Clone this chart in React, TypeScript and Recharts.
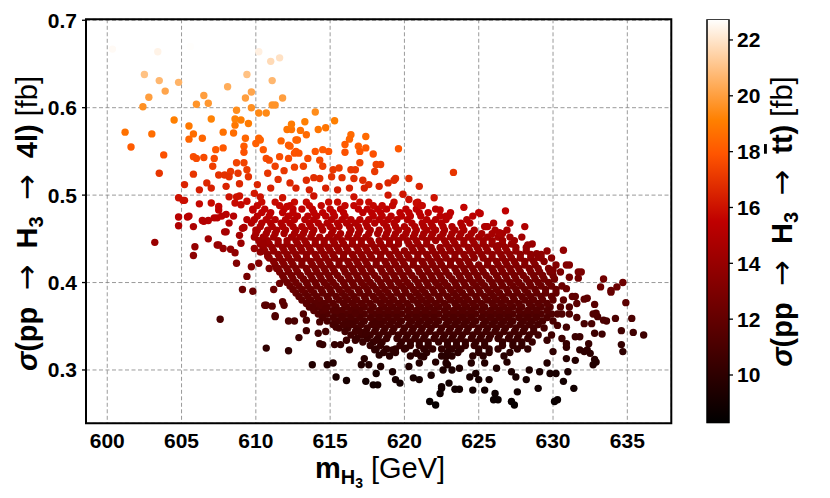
import React from "react";
import {
  ScatterChart,
  Scatter,
  XAxis,
  YAxis,
  CartesianGrid,
  ReferenceArea,
  BarChart,
  Bar,
  Label,
} from "recharts";

// each point: [m_H3 (GeV), sigma(pp -> H3 -> 4l) (fb), sigma(pp -> H3 -> tt) (fb)]
type Pt = [number, number, number];

// light / orange points above 0.5 fb
const upperArm: Pt[] = [
  [600.35, 0.667, 22.6], [603.4, 0.664, 22.4], [605.6, 0.67, 22.7], [610.2, 0.664, 22.3],
  [611.0, 0.653, 21.7], [611.6, 0.657, 21.9], [602.5, 0.638, 21.0], [603.5, 0.631, 20.7],
  [604.8, 0.629, 20.6], [609.4, 0.638, 21.0], [611.1, 0.631, 20.7], [602.8, 0.612, 20.0],
  [603.9, 0.619, 20.2], [608.1, 0.624, 20.4], [609.7, 0.618, 20.2], [609.3, 0.611, 20.0],
  [602.4, 0.601, 19.6], [606.5, 0.614, 20.0], [606.0, 0.604, 19.7], [606.8, 0.605, 19.8],
  [608.7, 0.597, 19.5], [609.7, 0.6, 19.6], [610.2, 0.594, 19.4], [610.7, 0.594, 19.4],
  [611.1, 0.603, 19.7], [611.3, 0.603, 19.7], [611.8, 0.611, 20.0], [601.2, 0.572, 18.7],
  [601.6, 0.555, 18.1], [603.0, 0.57, 18.6], [604.5, 0.586, 19.1], [603.8, 0.546, 17.8],
  [603.5, 0.525, 17.0], [605.5, 0.579, 18.9], [605.5, 0.564, 18.4], [605.8, 0.57, 18.6],
  [606.4, 0.565, 18.4], [607.0, 0.587, 19.2], [607.8, 0.572, 18.7], [608.5, 0.571, 18.6],
  [608.6, 0.58, 18.9], [608.6, 0.587, 19.2], [609.0, 0.586, 19.1], [609.5, 0.582, 19.0],
  [609.3, 0.565, 18.4], [609.2, 0.556, 18.1], [609.2, 0.549, 17.8], [610.2, 0.565, 18.4],
  [610.3, 0.563, 18.3], [610.0, 0.559, 18.2], [610.5, 0.552, 18.0], [610.7, 0.542, 17.6],
  [610.9, 0.54, 17.5], [611.7, 0.562, 18.3], [612.2, 0.557, 18.1], [612.1, 0.575, 18.8],
  [612.4, 0.575, 18.8], [612.7, 0.563, 18.3], [611.6, 0.544, 17.7], [612.2, 0.542, 17.6],
  [612.6, 0.548, 17.8], [605.8, 0.544, 17.7], [606.0, 0.542, 17.6], [606.5, 0.543, 17.6],
  [607.2, 0.542, 17.6], [607.3, 0.552, 18.0], [607.8, 0.554, 18.0], [607.1, 0.533, 17.3],
  [607.5, 0.523, 16.9], [607.9, 0.523, 16.9], [608.3, 0.527, 17.1], [608.8, 0.525, 17.0],
  [608.2, 0.521, 16.9], [608.7, 0.537, 17.4], [609.2, 0.537, 17.4], [609.4, 0.529, 17.2],
  [609.5, 0.521, 16.9], [605.8, 0.524, 17.0], [606.7, 0.514, 16.6], [607.0, 0.508, 16.4],
  [606.2, 0.506, 16.3], [605.2, 0.512, 16.5], [608.0, 0.51, 16.5], [608.9, 0.513, 16.6],
  [614.0, 0.595, 19.5], [613.3, 0.584, 19.1], [612.4, 0.581, 19.0], [613.0, 0.574, 18.7],
  [613.4, 0.569, 18.5], [612.8, 0.563, 18.3], [612.3, 0.556, 18.1], [612.7, 0.55, 17.9],
  [612.9, 0.548, 17.8], [614.2, 0.575, 18.8], [614.7, 0.577, 18.8], [615.3, 0.585, 19.1],
  [616.4, 0.569, 18.5], [616.3, 0.564, 18.4], [616.0, 0.558, 18.1], [617.4, 0.567, 18.5],
  [616.9, 0.556, 18.1], [617.0, 0.55, 17.9], [617.4, 0.554, 18.0], [617.9, 0.547, 17.8],
  [619.6, 0.553, 18.0], [614.0, 0.55, 17.9], [614.5, 0.552, 18.0], [614.9, 0.55, 17.9],
  [614.3, 0.54, 17.5], [616.0, 0.549, 17.8], [613.5, 0.542, 17.6], [613.2, 0.533, 17.3],
  [614.5, 0.533, 17.3], [615.2, 0.529, 17.1], [615.6, 0.531, 17.2], [616.4, 0.529, 17.1],
  [617.0, 0.537, 17.4], [616.7, 0.529, 17.1], [618.1, 0.535, 17.3], [618.4, 0.535, 17.3],
  [618.0, 0.527, 17.1], [619.4, 0.519, 16.8], [618.9, 0.514, 16.6], [620.3, 0.519, 16.8],
  [621.0, 0.51, 16.5], [623.3, 0.526, 17.0], [613.4, 0.517, 16.7], [613.9, 0.52, 16.8],
  [614.3, 0.519, 16.8], [615.1, 0.521, 16.9], [615.8, 0.52, 16.8], [616.6, 0.519, 16.8],
  [617.2, 0.517, 16.7], [617.6, 0.512, 16.6], [618.3, 0.51, 16.5], [617.3, 0.508, 16.4],
  [616.3, 0.508, 16.4], [615.5, 0.506, 16.3], [614.7, 0.508, 16.4], [613.6, 0.506, 16.3],
  [612.7, 0.508, 16.4], [612.3, 0.514, 16.6], [619.3, 0.517, 16.7], [610.8, 0.525, 17.0],
  [611.5, 0.518, 16.8], [611.0, 0.508, 16.4], [610.1, 0.512, 16.5], [611.9, 0.528, 17.1],
  [612.6, 0.532, 17.3], [611.3, 0.533, 17.3],
];

// red points on the low-mass side below 0.5 fb
const leftFlank: Pt[] = [
  [604.8, 0.497, 16.0], [605.2, 0.494, 15.9], [606.2, 0.49, 15.7], [607.0, 0.491, 15.8],
  [607.5, 0.487, 15.6], [608.0, 0.478, 15.3], [607.5, 0.483, 15.5], [607.4, 0.474, 15.2],
  [605.5, 0.476, 15.2], [604.8, 0.475, 15.2], [604.8, 0.465, 14.9], [606.4, 0.471, 15.1],
  [606.8, 0.471, 15.1], [608.5, 0.476, 15.2], [609.4, 0.472, 15.1], [609.2, 0.463, 14.8],
  [608.0, 0.458, 14.6], [606.8, 0.45, 14.3], [603.2, 0.446, 14.1], [605.9, 0.441, 13.9],
  [605.8, 0.431, 13.6], [607.4, 0.443, 14.0], [607.8, 0.439, 13.9], [608.3, 0.438, 13.8],
  [608.6, 0.434, 13.7], [609.0, 0.445, 14.1], [608.7, 0.498, 16.0], [608.6, 0.491, 15.8],
  [609.4, 0.493, 15.8], [609.9, 0.502, 16.2], [610.3, 0.498, 16.0], [609.8, 0.483, 15.5],
  [610.0, 0.46, 14.7], [609.9, 0.439, 13.9], [610.5, 0.445, 14.1], [605.1, 0.494, 15.9],
  [605.4, 0.475, 15.2], [605.8, 0.464, 14.8], [606.5, 0.47, 15.0], [607.2, 0.474, 15.2],
  [607.7, 0.476, 15.2], [608.2, 0.468, 15.0], [609.1, 0.462, 14.8], [607.9, 0.458, 14.6],
  [607.5, 0.443, 14.0], [608.9, 0.454, 14.5], [608.7, 0.422, 13.2], [609.4, 0.407, 12.7],
  [609.7, 0.418, 13.1], [610.2, 0.422, 13.2], [610.3, 0.435, 13.7], [610.8, 0.43, 13.5],
  [610.9, 0.416, 13.0], [609.8, 0.39, 12.1], [609.1, 0.392, 12.2], [611.4, 0.416, 13.0],
  [611.6, 0.399, 12.4], [611.2, 0.392, 12.2], [610.7, 0.374, 11.6], [611.9, 0.374, 11.6],
  [611.3, 0.361, 11.2], [607.6, 0.358, 11.1], [608.2, 0.498, 16.0], [608.9, 0.499, 16.0],
  [609.0, 0.489, 15.7], [619.9, 0.501, 16.1], [620.3, 0.495, 15.9], [620.8, 0.491, 15.8],
  [621.1, 0.488, 15.7], [622.0, 0.497, 16.0], [622.4, 0.483, 15.5], [622.8, 0.476, 15.2],
  [624.0, 0.486, 15.6], [625.0, 0.48, 15.4], [625.5, 0.464, 14.9], [611.8, 0.497, 16.0],
  [613.9, 0.499, 16.0], [616.6, 0.498, 16.0], [618.9, 0.5, 16.1], [612.1, 0.487, 15.6],
];

// high-mass tail
const rightTail: Pt[] = [
  [625.1, 0.479, 15.4], [626.8, 0.482, 15.5], [627.1, 0.468, 15.0], [628.1, 0.464, 14.9],
  [625.6, 0.464, 14.9], [626.4, 0.457, 14.6], [626.6, 0.448, 14.2], [628.3, 0.443, 14.0],
  [628.9, 0.433, 13.6], [629.0, 0.429, 13.5], [626.3, 0.442, 14.0], [630.7, 0.437, 13.8],
  [630.9, 0.42, 13.2], [631.1, 0.42, 13.2], [631.7, 0.412, 12.9], [631.9, 0.412, 12.9],
  [631.1, 0.406, 12.6], [631.7, 0.405, 12.6], [629.8, 0.414, 13.0], [633.4, 0.404, 12.6],
  [633.2, 0.395, 12.3], [633.9, 0.391, 12.1], [634.3, 0.395, 12.3], [634.7, 0.4, 12.4],
  [634.9, 0.377, 11.7], [635.3, 0.359, 11.1], [635.4, 0.343, 10.7], [636.1, 0.34, 10.6],
  [634.6, 0.345, 10.7], [634.7, 0.321, 10.0], [634.6, 0.329, 10.2], [632.1, 0.381, 11.8],
  [632.8, 0.375, 11.6], [632.7, 0.364, 11.3], [633.0, 0.361, 11.2], [633.6, 0.356, 11.0],
  [634.2, 0.359, 11.1], [632.8, 0.342, 10.6], [633.3, 0.341, 10.6], [632.1, 0.353, 11.0],
  [631.6, 0.36, 11.2], [632.4, 0.33, 10.3], [632.1, 0.321, 10.0], [632.5, 0.319, 9.9],
  [631.8, 0.338, 10.5], [631.1, 0.364, 11.3], [630.9, 0.349, 10.8], [630.3, 0.351, 10.9],
  [631.3, 0.384, 11.9], [630.9, 0.393, 12.2], [630.3, 0.364, 11.3], [630.0, 0.414, 13.0],
  [630.6, 0.336, 10.5], [630.9, 0.326, 10.2], [629.9, 0.34, 10.6], [629.6, 0.334, 10.4],
  [630.0, 0.321, 10.0], [632.8, 0.312, 9.7], [632.9, 0.365, 11.3], [633.4, 0.357, 11.1],
  [632.3, 0.382, 11.8], [631.5, 0.384, 11.9], [631.1, 0.372, 11.5], [631.6, 0.376, 11.7],
  [633.9, 0.389, 12.1], [632.6, 0.353, 11.0],
];

// dark points below the core
const lowerTail: Pt[] = [
  [610.6, 0.374, 11.6], [611.1, 0.373, 11.6], [611.8, 0.378, 11.7], [611.3, 0.362, 11.3],
  [612.2, 0.356, 11.1], [612.6, 0.356, 11.1], [613.2, 0.364, 11.3], [613.4, 0.357, 11.1],
  [613.8, 0.372, 11.5], [614.4, 0.374, 11.6], [614.7, 0.37, 11.5], [614.3, 0.355, 11.0],
  [614.2, 0.342, 10.6], [614.7, 0.344, 10.7], [613.4, 0.345, 10.7], [612.9, 0.337, 10.5],
  [614.3, 0.33, 10.3], [614.5, 0.329, 10.2], [610.7, 0.325, 10.1], [612.2, 0.322, 10.0],
  [613.8, 0.306, 9.5], [614.8, 0.306, 9.5], [615.2, 0.308, 9.6], [615.4, 0.292, 9.2],
  [616.1, 0.288, 9.1], [615.4, 0.349, 10.8], [615.3, 0.329, 10.2], [615.7, 0.329, 10.2],
  [616.3, 0.323, 10.0], [616.1, 0.334, 10.4], [616.7, 0.334, 10.4], [617.0, 0.344, 10.7],
  [617.4, 0.342, 10.6], [618.1, 0.334, 10.4], [618.0, 0.323, 10.0], [618.3, 0.317, 9.8],
  [617.3, 0.313, 9.7], [617.1, 0.306, 9.5], [617.6, 0.306, 9.5], [618.4, 0.304, 9.4],
  [618.1, 0.296, 9.2], [617.4, 0.287, 9.0], [617.9, 0.283, 9.0], [618.2, 0.283, 9.0],
  [619.2, 0.298, 9.3], [619.4, 0.289, 9.1], [619.7, 0.285, 9.0], [620.3, 0.304, 9.4],
  [620.8, 0.319, 9.9], [620.6, 0.291, 9.1], [621.0, 0.289, 9.1], [621.8, 0.294, 9.2],
  [622.5, 0.279, 8.9], [622.4, 0.273, 8.8], [621.7, 0.264, 8.6], [622.1, 0.26, 8.5],
  [616.3, 0.353, 10.9], [615.5, 0.368, 11.4], [615.8, 0.361, 11.2], [616.7, 0.365, 11.3],
  [618.1, 0.353, 10.9], [619.2, 0.323, 10.0], [620.1, 0.325, 10.1], [621.3, 0.315, 9.8],
  [622.1, 0.309, 9.6], [622.6, 0.3, 9.3], [622.8, 0.315, 9.8], [623.2, 0.3, 9.3],
  [622.5, 0.281, 9.0], [623.0, 0.285, 9.0], [623.4, 0.278, 8.9], [623.7, 0.278, 8.9],
  [622.9, 0.306, 9.5], [623.7, 0.302, 9.4], [624.4, 0.292, 9.2], [624.8, 0.296, 9.2],
  [625.0, 0.289, 9.1], [624.6, 0.277, 8.9], [625.4, 0.277, 8.9], [625.7, 0.289, 9.1],
  [626.1, 0.273, 8.8], [626.3, 0.266, 8.7], [626.0, 0.266, 8.7], [626.2, 0.302, 9.4],
  [626.9, 0.309, 9.6], [627.2, 0.298, 9.3], [627.5, 0.292, 9.2], [628.2, 0.289, 9.1],
  [627.6, 0.275, 8.9], [627.2, 0.264, 8.6], [627.4, 0.26, 8.5], [629.0, 0.279, 8.9],
  [628.4, 0.3, 9.3], [629.1, 0.298, 9.3], [629.6, 0.308, 9.6], [629.8, 0.296, 9.2],
  [630.2, 0.296, 9.2], [630.1, 0.264, 8.6], [630.3, 0.266, 8.7], [630.7, 0.287, 9.0],
  [631.0, 0.298, 9.3], [631.4, 0.279, 8.9], [630.9, 0.313, 9.7], [631.5, 0.311, 9.6],
  [631.8, 0.323, 10.0], [632.3, 0.323, 10.0], [632.9, 0.309, 9.6], [632.7, 0.306, 9.5],
  [631.5, 0.338, 10.5], [630.9, 0.33, 10.3],
];

// dense core, read row by row: [sigma 4l, sigma tt, masses along the row]
const coreRows: [number, number, number[]][] = [
  [0.492, 15.8, [610.4, 611.3, 612.6, 613.4, 614.9, 615.5, 617.0, 617.6, 619.3, 620.9]],
  [0.484, 15.5, [609.8, 610.6, 611.9, 612.5, 613.1, 613.8, 615.0, 615.7, 616.9, 617.5, 618.2, 618.8, 620.1, 620.8, 622.1]],
  [0.476, 15.3, [610.1, 610.9, 612.2, 612.8, 613.5, 614.1, 614.7, 615.3, 616.0, 617.9, 618.5, 619.1, 619.8, 620.4, 621.1, 622.4, 623.0, 624.6]],
  [0.468, 15.0, [609.7, 610.4, 611.0, 611.7, 612.3, 613.6, 614.2, 614.8, 615.5, 616.1, 616.7, 617.4, 618.0, 618.6, 619.3, 620.5, 621.2, 621.8, 622.5, 623.8, 624.4, 626.0]],
  [0.46, 14.7, [610.1, 610.8, 611.4, 612.0, 612.7, 613.3, 613.9, 614.5, 615.2, 616.4, 617.0, 617.7, 618.3, 618.9, 619.6, 620.2, 620.8, 621.5, 622.1, 622.7, 623.4, 624.0, 624.7, 626.1, 626.9]],
  [0.452, 14.4, [609.9, 610.5, 611.2, 612.4, 613.0, 613.7, 614.3, 614.9, 615.5, 616.2, 616.8, 617.4, 618.7, 619.3, 619.9, 620.6, 621.2, 621.8, 622.4, 623.1, 623.7, 624.3, 625.0, 625.6, 626.3, 627.1, 627.9]],
  [0.444, 14.1, [610.3, 610.9, 611.5, 612.1, 612.8, 613.4, 614.0, 614.6, 615.3, 615.9, 616.5, 617.1, 617.8, 618.4, 619.0, 619.6, 620.3, 620.9, 621.5, 622.8, 623.4, 624.0, 624.7, 625.3, 625.9, 626.6, 627.2, 628.6]],
  [0.436, 13.8, [610.6, 611.2, 611.9, 612.5, 613.1, 613.7, 614.4, 615.0, 615.6, 616.2, 616.9, 617.5, 618.1, 618.7, 619.4, 620.0, 620.6, 621.2, 621.9, 622.5, 623.1, 623.7, 624.4, 625.0, 625.6, 626.3, 626.9, 627.5, 628.2, 629.6]],
  [0.428, 13.5, [610.9, 611.6, 612.2, 612.8, 613.4, 614.1, 614.7, 615.3, 615.9, 616.6, 617.2, 617.8, 618.4, 619.1, 619.7, 620.3, 620.9, 621.6, 622.2, 622.8, 623.4, 624.1, 624.7, 625.3, 625.9, 626.6, 627.2, 627.8, 628.5, 629.2, 629.9]],
  [0.42, 13.2, [611.3, 611.9, 612.5, 613.1, 613.8, 614.4, 615.0, 615.6, 616.3, 616.9, 617.5, 618.1, 618.8, 619.4, 620.0, 620.6, 621.3, 621.9, 622.5, 623.1, 623.8, 624.4, 625.0, 625.6, 626.3, 626.9, 627.5, 628.1, 628.8, 630.2]],
  [0.412, 12.9, [611.6, 612.2, 612.8, 613.5, 614.1, 614.7, 615.3, 616.0, 616.6, 617.2, 617.8, 618.5, 619.1, 619.7, 620.3, 621.0, 621.6, 622.2, 622.8, 623.5, 624.1, 624.7, 625.3, 626.0, 626.6, 627.2, 627.8, 628.5, 629.1, 629.8, 630.5]],
  [0.404, 12.6, [611.9, 612.5, 613.2, 613.8, 614.4, 615.0, 615.7, 616.3, 616.9, 617.5, 618.2, 618.8, 619.4, 620.0, 620.7, 621.3, 621.9, 622.5, 623.2, 623.8, 624.4, 625.0, 625.7, 626.3, 626.9, 627.5, 628.2, 628.8, 629.4, 630.1]],
  [0.396, 12.3, [612.3, 612.9, 613.5, 614.1, 614.8, 615.4, 616.0, 616.6, 617.3, 617.9, 618.5, 619.1, 619.8, 620.4, 621.0, 621.6, 622.3, 622.9, 623.5, 624.1, 624.8, 625.4, 626.0, 626.6, 627.3, 627.9, 628.5, 629.2, 629.9, 630.6]],
  [0.388, 12.0, [612.7, 613.3, 613.9, 614.5, 615.1, 615.8, 616.4, 617.0, 617.6, 618.3, 618.9, 619.5, 620.1, 620.8, 621.4, 622.0, 622.6, 623.3, 623.9, 624.5, 625.1, 625.8, 626.4, 627.0, 627.6, 628.3, 628.9, 629.5, 630.2]],
  [0.38, 11.8, [613.1, 613.7, 614.3, 614.9, 615.6, 616.2, 616.8, 617.4, 618.1, 618.7, 619.3, 619.9, 620.6, 621.2, 621.8, 622.4, 623.1, 623.7, 624.3, 624.9, 625.6, 626.2, 626.8, 627.4, 628.1, 628.7, 629.3, 630.0, 630.7]],
  [0.372, 11.5, [613.6, 614.2, 614.8, 615.4, 616.1, 616.7, 617.3, 617.9, 618.6, 619.2, 619.8, 620.4, 621.1, 621.7, 622.3, 622.9, 623.6, 624.2, 624.8, 625.4, 626.1, 626.7, 627.3, 627.9, 628.6, 629.2, 629.8, 630.5]],
  [0.364, 11.3, [614.2, 614.8, 615.5, 616.1, 616.7, 617.3, 618.0, 618.6, 619.2, 619.8, 620.5, 621.1, 621.7, 622.3, 623.0, 623.6, 624.2, 624.8, 625.5, 626.1, 626.7, 627.3, 628.0, 628.6, 629.2, 629.9, 630.6]],
  [0.356, 11.0, [614.8, 615.5, 616.1, 616.7, 617.3, 618.0, 618.6, 619.2, 619.8, 620.5, 621.1, 621.7, 622.3, 623.0, 623.6, 624.2, 624.8, 625.5, 626.1, 626.7, 627.3, 628.0, 628.6, 629.3, 630.0]],
  [0.348, 10.8, [615.6, 616.2, 616.8, 617.5, 618.1, 618.7, 619.3, 620.0, 620.6, 621.2, 621.8, 622.5, 623.1, 623.7, 624.3, 625.0, 625.6, 626.2, 626.8, 627.5, 628.1, 628.7, 629.4]],
  [0.34, 10.6, [616.4, 617.1, 617.7, 618.3, 618.9, 619.6, 620.2, 620.8, 621.4, 622.1, 622.7, 623.3, 623.9, 624.6, 625.2, 625.8, 626.4, 627.1, 627.7, 628.4, 629.0]],
  [0.332, 10.3, [617.2, 617.9, 618.5, 619.8, 620.4, 621.0, 621.6, 622.3, 622.9, 623.5, 624.1, 624.8, 625.4, 626.6, 627.3, 627.9, 628.6]],
  [0.324, 10.1, [618.1, 618.8, 619.4, 620.0, 621.3, 621.9, 622.5, 623.2, 623.8, 625.0, 625.7, 626.3, 627.6, 628.3]],
  [0.316, 9.8, [619.0, 620.4, 621.1, 622.5, 623.2, 624.6, 625.3, 626.7]],
  [0.308, 9.6, [621.0, 622.8, 624.5, 625.4]],
];

// points lying between the core rows above
const coreMidRows: [number, number, number[]][] = [
  [0.488, 15.65, [610.1, 611.6, 612.3, 613.6, 614.4, 616.0, 616.6, 617.9, 618.5, 619.2, 621.2]],
  [0.48, 15.4, [610.4, 611.0, 611.8, 612.5, 613.9, 614.5, 615.2, 615.9, 617.2, 617.8, 618.4, 619.7, 620.3, 621.0, 621.6, 623.1]],
  [0.472, 15.1, [609.9, 610.7, 611.3, 612.0, 612.6, 613.3, 613.9, 615.1, 615.8, 616.4, 617.0, 617.6, 618.3, 618.9, 619.5, 620.2, 621.5, 622.1, 622.8, 624.2]],
  [0.464, 14.85, [610.3, 611.1, 611.8, 612.5, 613.1, 613.7, 614.4, 615.0, 615.6, 616.3, 616.9, 617.5, 618.8, 619.4, 620.0, 620.7, 621.3, 621.9, 622.6, 623.2, 623.9, 625.4]],
  [0.456, 14.55, [610.0, 610.7, 611.3, 611.9, 612.6, 613.2, 613.8, 615.1, 615.7, 616.3, 616.9, 617.6, 618.2, 618.8, 619.4, 620.1, 620.7, 621.3, 621.9, 622.6, 623.2, 623.8, 624.5, 625.2, 625.9, 626.6]],
  [0.448, 14.25, [610.2, 610.8, 611.5, 612.1, 612.7, 613.3, 614.0, 614.6, 615.2, 615.8, 616.5, 617.1, 617.7, 618.3, 619.0, 619.6, 620.2, 620.8, 621.5, 622.1, 622.7, 623.3, 624.0, 624.6, 625.3, 625.9, 626.6, 627.4]],
  [0.44, 13.95, [610.5, 611.1, 611.8, 612.4, 613.0, 613.6, 614.3, 614.9, 615.5, 616.1, 616.8, 617.4, 618.0, 618.6, 619.3, 620.5, 621.1, 621.8, 622.4, 623.0, 623.6, 624.3, 624.9, 625.5, 626.2, 626.8, 627.5, 628.2]],
  [0.432, 13.65, [610.8, 611.5, 612.1, 612.7, 613.4, 614.0, 614.6, 615.2, 615.9, 616.5, 617.1, 617.7, 618.4, 619.0, 619.6, 620.2, 620.9, 621.5, 622.1, 622.7, 623.4, 624.0, 624.6, 625.2, 625.9, 626.5, 627.1, 627.8, 628.5, 629.2]],
  [0.424, 13.35, [611.2, 611.8, 612.4, 613.1, 613.7, 614.3, 614.9, 615.6, 616.2, 616.8, 617.4, 618.1, 618.7, 619.3, 619.9, 620.6, 621.2, 621.8, 622.4, 623.1, 623.7, 624.3, 625.6, 626.2, 626.8, 627.4, 628.1, 628.7, 629.4]],
  [0.416, 13.05, [611.5, 612.1, 612.7, 613.4, 614.0, 614.6, 615.2, 615.9, 616.5, 617.1, 617.7, 618.4, 619.0, 619.6, 620.2, 620.9, 621.5, 622.1, 622.7, 623.4, 624.0, 624.6, 625.2, 625.9, 626.5, 627.1, 627.7, 628.4, 629.0, 629.7]],
  [0.408, 12.75, [611.8, 612.4, 613.0, 613.7, 614.3, 614.9, 615.5, 616.2, 616.8, 617.4, 618.0, 618.7, 619.3, 619.9, 620.5, 621.2, 621.8, 622.4, 623.0, 623.7, 624.3, 624.9, 625.5, 626.2, 626.8, 627.4, 628.0, 628.7, 629.3, 630.0]],
  [0.4, 12.45, [612.1, 612.7, 613.4, 614.0, 614.6, 615.2, 615.9, 616.5, 617.1, 617.7, 618.4, 619.0, 619.6, 620.2, 620.9, 621.5, 622.1, 622.7, 623.4, 624.0, 624.6, 625.2, 625.9, 626.5, 627.1, 627.7, 628.4, 629.0, 629.7]],
  [0.392, 12.15, [612.5, 613.1, 613.7, 614.4, 615.0, 615.6, 616.2, 616.9, 617.5, 618.1, 618.7, 619.4, 620.0, 620.6, 621.2, 621.9, 622.5, 623.1, 623.7, 624.4, 625.0, 625.6, 626.2, 626.9, 627.5, 628.1, 628.8, 629.5, 630.2]],
  [0.384, 11.9, [612.9, 613.5, 614.1, 614.8, 615.4, 616.0, 616.6, 617.3, 617.9, 618.5, 619.1, 619.8, 620.4, 621.0, 621.6, 622.3, 622.9, 623.5, 624.1, 624.8, 625.4, 626.0, 626.6, 627.3, 627.9, 628.5, 629.2, 629.9]],
  [0.376, 11.65, [613.4, 614.0, 614.6, 615.2, 615.9, 616.5, 617.1, 617.7, 618.4, 619.0, 619.6, 620.2, 620.9, 621.5, 622.1, 622.7, 623.4, 624.0, 624.6, 625.2, 625.9, 626.5, 627.1, 627.7, 628.4, 629.0, 629.6]],
  [0.368, 11.4, [613.9, 614.5, 615.2, 615.8, 616.4, 617.0, 617.7, 618.3, 618.9, 619.5, 620.2, 620.8, 621.4, 622.0, 622.7, 623.3, 623.9, 624.5, 625.2, 625.8, 626.4, 627.0, 627.7, 628.3, 628.9, 629.6]],
  [0.36, 11.15, [614.5, 615.2, 615.8, 616.4, 617.0, 617.7, 618.3, 618.9, 619.5, 620.2, 620.8, 621.4, 622.0, 622.7, 623.3, 623.9, 624.5, 625.2, 625.8, 626.4, 627.0, 627.7, 628.3, 628.9, 629.6]],
  [0.352, 10.9, [615.2, 615.9, 616.5, 617.1, 617.8, 618.4, 619.0, 619.6, 620.3, 620.9, 621.5, 622.1, 622.8, 623.4, 624.0, 624.6, 625.3, 625.9, 626.5, 627.1, 627.8, 628.4, 629.0]],
  [0.344, 10.7, [616.0, 616.7, 617.4, 618.0, 618.6, 619.2, 619.9, 620.5, 621.1, 621.7, 622.4, 623.0, 623.6, 624.2, 624.9, 625.5, 626.1, 626.7, 627.4, 628.0, 628.7]],
  [0.336, 10.45, [616.8, 617.5, 618.2, 618.8, 619.5, 620.1, 620.7, 621.3, 622.0, 622.6, 623.2, 623.8, 624.5, 625.1, 625.7, 626.3, 627.0, 627.6, 628.3]],
  [0.328, 10.2, [617.7, 618.4, 619.7, 620.4, 621.0, 621.6, 622.9, 623.5, 624.1, 624.7, 625.4, 626.6, 627.3, 627.9]],
  [0.32, 9.95, [618.6, 619.4, 620.8, 621.5, 622.9, 623.6, 625.0, 625.7, 627.1]],
];

const massTicks = [600, 605, 610, 615, 620, 625, 630, 635];
const xsecTicks = [0.3, 0.4, 0.5, 0.6, 0.7];
const colorTicks = [10, 12, 14, 16, 18, 20, 22];
const massDomain: [number, number] = [598.57, 637.96];
const xsecDomain: [number, number] = [0.239, 0.7011];
const colorDomain: [number, number] = [8.27, 22.74];

const FONT = "'Liberation Sans', Arial, sans-serif";
const ARROW_FONT = "'DejaVu Sans', sans-serif";
const GAP = "\u00a0\u00a0";

// matplotlib gist_heat
const gistHeat = (t: number) => {
  const cl = (v: number) => Math.round(255 * Math.max(0, Math.min(1, v)));
  return `rgb(${cl(1.5 * t)},${cl(2 * t - 1)},${cl(4 * t - 3)})`;
};
const colorOf = (c: number) =>
  gistHeat((c - colorDomain[0]) / (colorDomain[1] - colorDomain[0]));

const toRows = (pts: Pt[]) => pts.map(([m, s, c]) => ({ m, s, c }));
const fromRows = (rows: [number, number, number[]][]) =>
  rows.flatMap(([s, c, ms]) => ms.map((m) => ({ m, s, c })));
const pointData = [
  ...fromRows(coreRows),
  ...fromRows(coreMidRows),
  ...toRows(upperArm),
  ...toRows(leftFlank),
  ...toRows(rightTail),
  ...toRows(lowerTail),
];

const Dot = (props: any) => {
  const { cx, cy, payload } = props;
  if (cx == null || cy == null) return null;
  return <circle cx={cx} cy={cy} r={3.7} fill={colorOf(payload.c)} />;
};

const YTitle = () => (
  <text
    transform="translate(37,223.5) rotate(-90)"
    textAnchor="middle"
    fontFamily={FONT}
    fontSize={29}
    fill="#000"
  >
    <tspan fontWeight="bold" fontStyle="italic">σ</tspan>
    <tspan fontWeight="bold">(pp{GAP}</tspan>
    <tspan fontFamily={ARROW_FONT} fontSize={31}>→</tspan>
    <tspan fontWeight="bold">{GAP}H</tspan>
    <tspan fontWeight="bold" fontSize={20} dy={6}>3</tspan>
    <tspan dy={-6}>{GAP}</tspan>
    <tspan fontFamily={ARROW_FONT} fontSize={31}>→</tspan>
    <tspan fontWeight="bold">{GAP}4l)</tspan>
    <tspan> [fb]</tspan>
  </text>
);

const XTitle = () => (
  <text x={380} y={478} textAnchor="middle" fontFamily={FONT} fontSize={29} fill="#000">
    <tspan fontWeight="bold">m</tspan>
    <tspan fontWeight="bold" fontSize={20} dy={6}>H</tspan>
    <tspan fontWeight="bold" fontSize={14} dy={4}>3</tspan>
    <tspan dy={-10}> [GeV]</tspan>
  </text>
);

const CbTitle = () => (
  <text
    transform="translate(92,221.5) rotate(-90)"
    textAnchor="middle"
    fontFamily={FONT}
    fontSize={29}
    fill="#000"
  >
    <tspan fontWeight="bold" fontStyle="italic">σ</tspan>
    <tspan fontWeight="bold">(pp{GAP}</tspan>
    <tspan fontFamily={ARROW_FONT} fontSize={31}>→</tspan>
    <tspan fontWeight="bold">{GAP}H</tspan>
    <tspan fontWeight="bold" fontSize={20} dy={6}>3</tspan>
    <tspan dy={-6}>{GAP}</tspan>
    <tspan fontFamily={ARROW_FONT} fontSize={31}>→</tspan>
    <tspan fontWeight="bold">{GAP}</tspan>
    <tspan fontWeight="bold" style={{ textDecoration: "overline" }}>t</tspan>
    <tspan fontWeight="bold">t)</tspan>
    <tspan> [fb]</tspan>
  </text>
);

const tickStyle = { fontSize: 21, fontWeight: "bold", fill: "#000", fontFamily: FONT };

const gradStops = [0, 0.1, 0.2, 0.3, 0.4, 0.5, 0.6, 0.667, 0.75, 0.875, 1];

export default function App() {
  return (
    <div style={{ position: "absolute", left: 0, top: 0, width: 830, height: 498, background: "#fff" }}>
      <div style={{ position: "absolute", left: 0, top: 0 }}>
        <ScatterChart
          width={830}
          height={498}
          margin={{ top: 19.3, right: 158.7, bottom: 34.7, left: 26 }}
        >
          <CartesianGrid stroke="#808080" strokeDasharray="4 2.5" strokeWidth={0.8} />
          <XAxis
            type="number"
            dataKey="m"
            domain={massDomain}
            ticks={massTicks}
            allowDataOverflow
            height={40}
            axisLine={false}
            tickLine={false}
            tickSize={4}
            tickMargin={6}
            tick={tickStyle}
          >
            <Label content={XTitle} />
          </XAxis>
          <YAxis
            type="number"
            dataKey="s"
            domain={xsecDomain}
            ticks={xsecTicks}
            allowDataOverflow
            width={60}
            axisLine={false}
            tickLine={{ stroke: "#000", strokeWidth: 1.3 }}
            tickSize={4}
            tickMargin={5}
            tick={tickStyle}
            tickFormatter={(v: number) => v.toFixed(1)}
          >
            <Label content={YTitle} />
          </YAxis>
          <Scatter data={pointData} shape={Dot} isAnimationActive={false} />
          <ReferenceArea
            x1={massDomain[0]}
            x2={massDomain[1]}
            y1={xsecDomain[0]}
            y2={xsecDomain[1]}
            fill="none"
            fillOpacity={0}
            stroke="#000"
            strokeWidth={2}
            ifOverflow="visible"
          />
        </ScatterChart>
      </div>
      <div style={{ position: "absolute", left: 700, top: 0 }}>
        <BarChart
          width={130}
          height={498}
          data={[{ k: "cb", v: colorDomain }]}
          margin={{ top: 19.3, right: 0, bottom: 74.7, left: 7 }}
          barCategoryGap={0}
          barGap={0}
        >
          <defs>
            <linearGradient id="gistHeatBar" x1="0" y1="1" x2="0" y2="0">
              {gradStops.map((t) => (
                <stop key={t} offset={t} stopColor={gistHeat(t)} />
              ))}
            </linearGradient>
          </defs>
          <XAxis dataKey="k" hide />
          <YAxis
            orientation="right"
            type="number"
            domain={colorDomain}
            ticks={colorTicks}
            allowDataOverflow
            width={101}
            axisLine={false}
            tickLine={{ stroke: "#000", strokeWidth: 1.3 }}
            tickSize={4}
            tickMargin={4}
            tick={tickStyle}
          >
            <Label content={CbTitle} />
          </YAxis>
          <Bar
            dataKey="v"
            fill="url(#gistHeatBar)"
            stroke="#000"
            strokeWidth={1.5}
            isAnimationActive={false}
          />
        </BarChart>
      </div>
    </div>
  );
}
